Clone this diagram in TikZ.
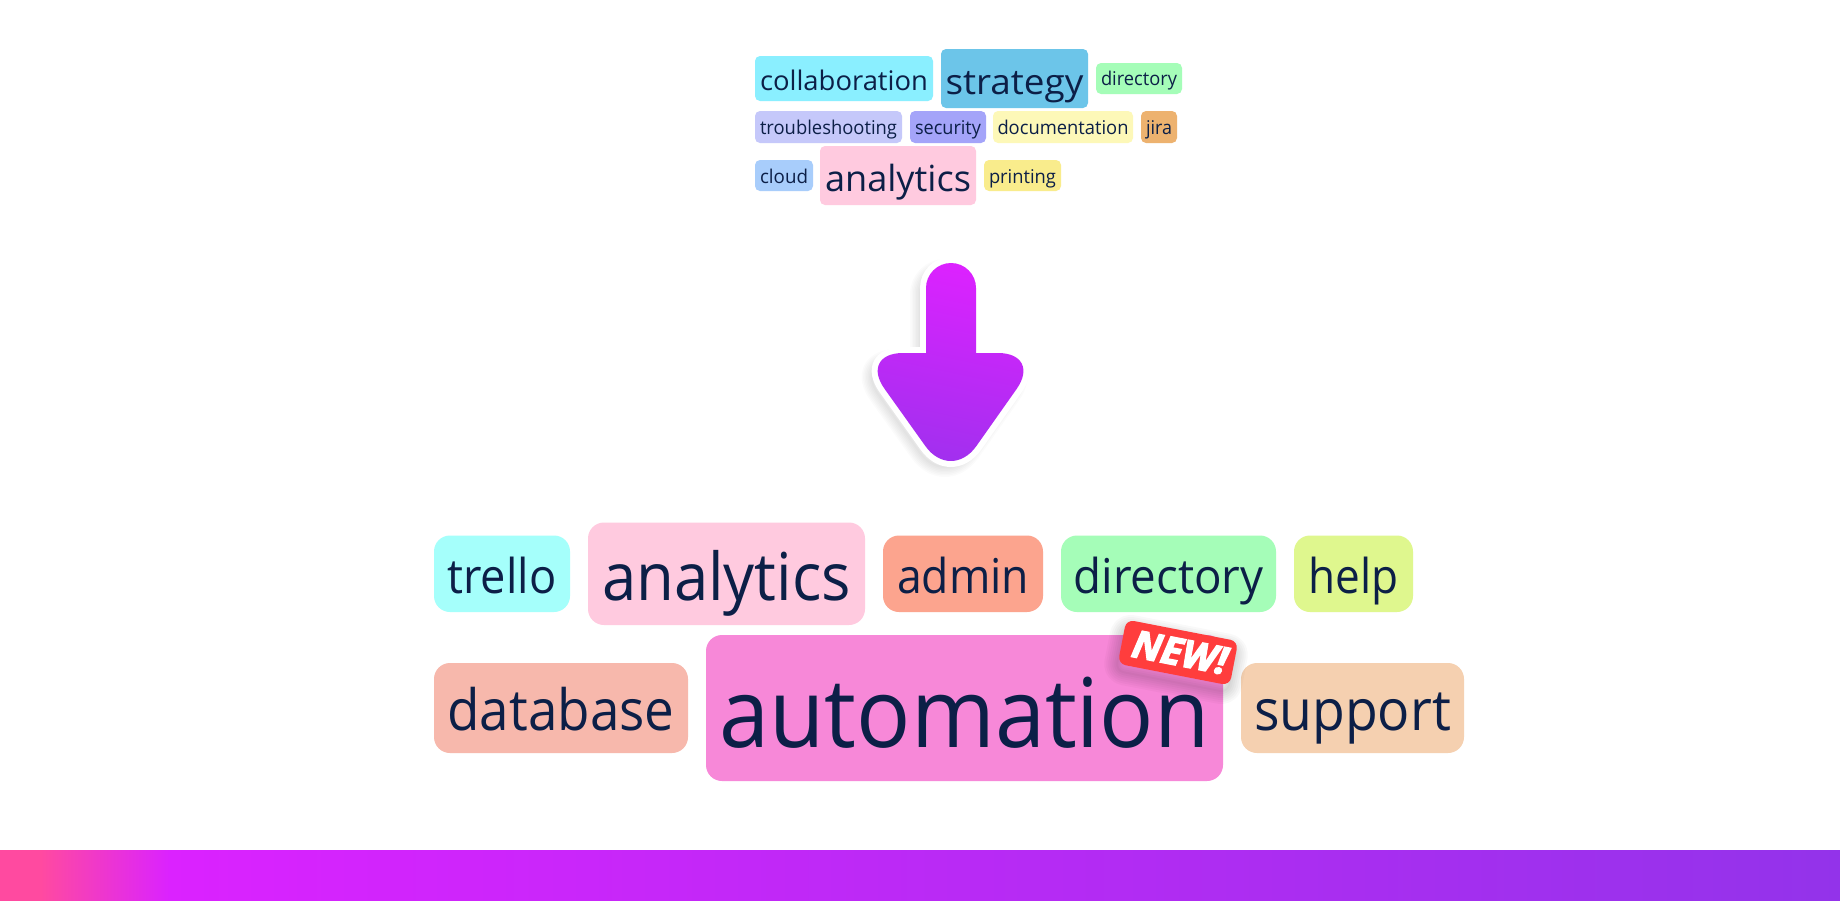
\documentclass[tikz,border=0pt]{standalone}
\usepackage{fontspec}
\usepackage{graphicx}
\setmainfont{Open Sans}
\newfontfamily\badgefont[FakeBold=3.5]{Open Sans}
\usetikzlibrary{calc}
\definecolor{ink}{HTML}{0C1F47}
\definecolor{cA}{HTML}{8AEFFF}\definecolor{cB}{HTML}{6CC5E9}\definecolor{cC}{HTML}{A5FDB8}
\definecolor{cD}{HTML}{C5C8FA}\definecolor{cE}{HTML}{A4A4F9}\definecolor{cF}{HTML}{FDF8B8}
\definecolor{cG}{HTML}{EDB26F}\definecolor{cH}{HTML}{A8CDFB}\definecolor{cI}{HTML}{FFCADF}
\definecolor{cJ}{HTML}{F9EC8C}\definecolor{cK}{HTML}{A5FFFB}\definecolor{cL}{HTML}{FCA48E}
\definecolor{cM}{HTML}{DFF78E}\definecolor{cN}{HTML}{F7B8AC}\definecolor{cO}{HTML}{F788D8}
\definecolor{cP}{HTML}{F5D0B0}\definecolor{badgered}{HTML}{FF3D3D}
\definecolor{arrowtop}{HTML}{DC22FF}\definecolor{arrowbot}{HTML}{9C31ED}
\definecolor{barA}{HTML}{FF4AA0}\definecolor{barB}{HTML}{DB22FF}\definecolor{barC}{HTML}{9333EA}
\pgfdeclarehorizontalshading{barshade}{100bp}{
  color(0bp)=(barA);color(26.1bp)=(barA);color(29.6bp)=(barB);color(75bp)=(barC);color(100bp)=(barC)}
\def\arrowshape{(926,353) -- (926,288) arc[start angle=180,end angle=360,x radius=25,y radius=25] -- (976,353)
  [rounded corners=44] -- (1042,353) -- (951,482) -- (859,353) [sharp corners] -- cycle}
\def\badgeshape{[rotate around={-11:(1178,652.5)}] (1121,630) rectangle (1235,675)}
\tikzset{
  tagnode/.style={inner sep=0pt,outer sep=0pt,text=ink,anchor=center},
}
\begin{document}
\begin{tikzpicture}[x=1pt,y=-1pt]
\useasboundingbox (0,0) rectangle (1840,900);
\fill[white] (0,0) rectangle (1840,900);
% bottom bar
\path[shading=barshade] (0,850) rectangle (1840,900);
% tags: name / x1 / y1 / x2 / y2 / colour / radius / font size / text width / baseline / text
\foreach \nm/\xa/\ya/\xb/\yb/\col/\rad/\fs/\tw/\base/\txt in {
 tcollab/755/56/933/101/cA/5/27/168/90/collaboration,
 tstrat/941/49/1088/108/cB/5/35/138/94/strategy,
 tdir/1096/63/1182/94/cC/5/19/76/85/directory,
 ttrouble/755/111/902/143/cD/5/19/137/134/troubleshooting,
 tsec/910/111/986/143/cE/5/19/66/134/security,
 tdoc/993/111/1133/143/cF/5/19/131/134/documentation,
 tjira/1141/111/1177/143/cG/5/19/26/134/jira,
 tcloud/755/160/813/191/cH/5/19/48/183/cloud,
 tana/820/146/976/205/cI/5/36/146/191/analytics,
 tprint/984/160/1061/191/cJ/5/19/67/183/printing,
 btrello/434/535.5/570/612/cK/16/48/109/593/trello,
 bana/588/522.5/865/625/cI/16/66/249/600/analytics,
 badmin/883/535.5/1043/612/cL/16/48/132/593/admin,
 bdir/1061/535.5/1276/612/cC/16/48/190/593/directory,
 bhelp/1294/535.5/1413/612/cM/16/48/90/593/help,
 bdb/434/663/688/753/cN/16/57/227/730/database,
 bauto/706/635/1223/781/cO/16/96/490/747/automation,
 bsup/1241/663/1464/753/cP/16/57/197/730/support}{
  \pgfmathsetmacro\bw{\xb-\xa}
  \pgfmathsetmacro\bh{\yb-\ya}
  \pgfmathsetmacro\cx{(\xa+\xb)/2}
  \pgfmathsetmacro\cy{(\ya+\yb)/2}
  \pgfmathsetmacro\ra{\cy-\base}
  \node[tagnode,fill=\col,rounded corners=\rad pt,minimum width=\bw pt,minimum height=\bh pt]
    (\nm) at (\cx,\cy) {\raisebox{\ra pt}[0pt][0pt]{\resizebox{\tw pt}{\height}{\fontsize{\fs pt}{\fs pt}\selectfont \txt}}};
}
% arrow shadow
\begin{scope}[shift={(-6,6)}]
\foreach \lw in {2,5,...,20}{
  \draw[black,opacity=0.017,line width=\lw pt,line join=round] \arrowshape;
}
\end{scope}
\draw[white,line width=12pt,line join=round] \arrowshape;
\path[shade,top color=arrowtop,bottom color=arrowbot,shading angle=-12] \arrowshape;
% badge
\begin{scope}[shift={(-2,7)}]
\foreach \lw in {2,6,...,26}{
  \draw[black,opacity=0.024,line width=\lw pt,line join=round,rounded corners=8pt] \badgeshape;
}
\end{scope}
\fill[badgered,rounded corners=8pt] \badgeshape;
\node[inner sep=0pt,text=white,rotate=-11] (badge) at (1180,652.5)
  {\resizebox{96pt}{\height}{\badgefont\fontsize{38pt}{38pt}\selectfont\bfseries\itshape NEW!}};
\end{tikzpicture}
\end{document}
